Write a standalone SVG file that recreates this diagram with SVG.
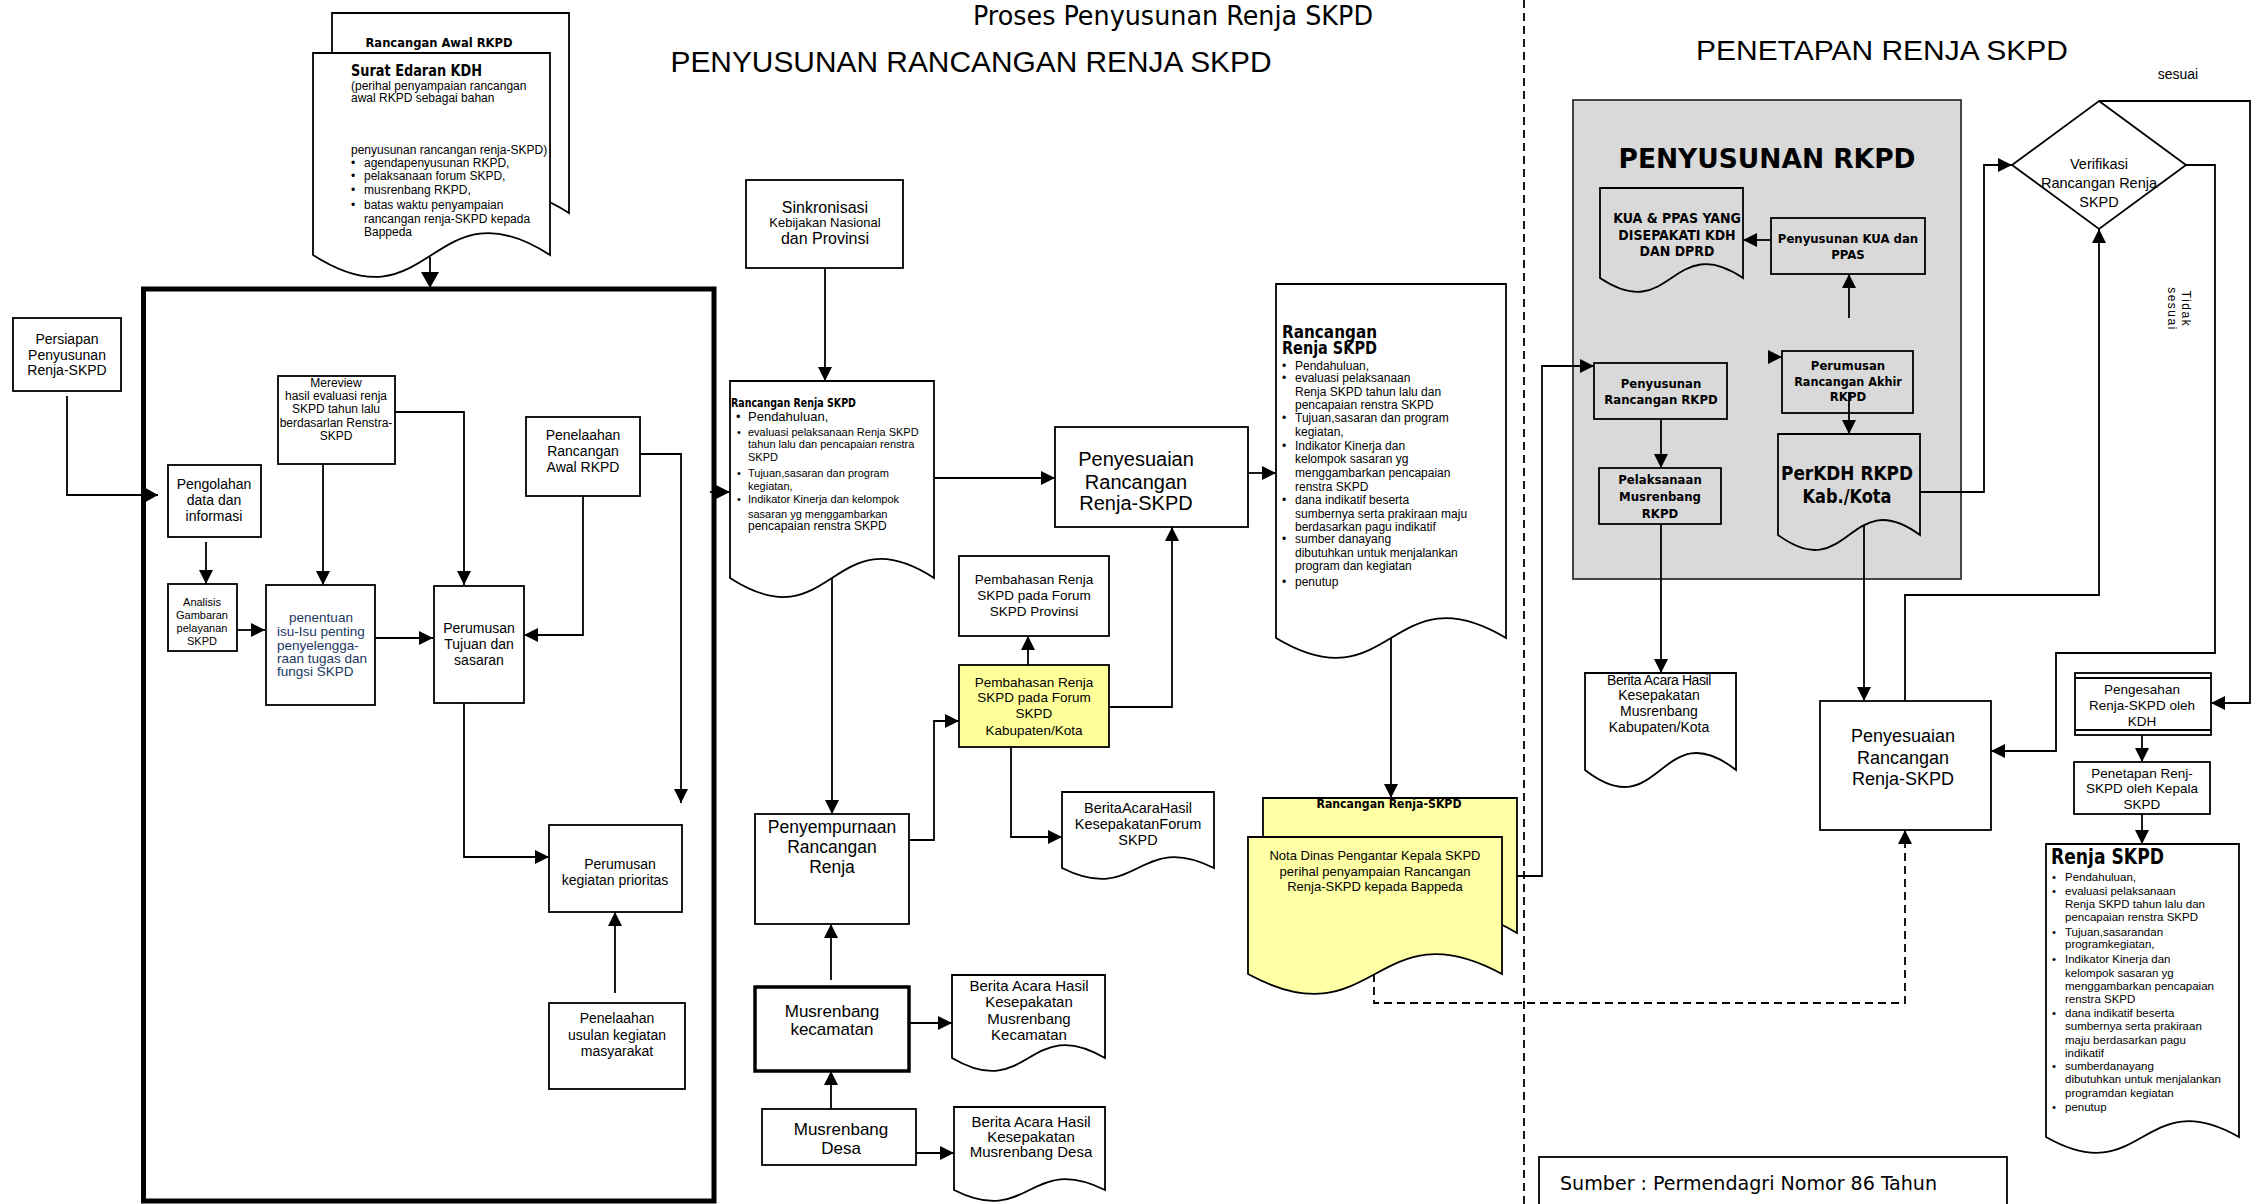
<svg xmlns="http://www.w3.org/2000/svg" width="2253" height="1204" viewBox="0 0 2253 1204">
<defs>
<style>
.bx{fill:#fff;stroke:#000;stroke-width:1.8}
.bk{fill:#fff;stroke:#000;stroke-width:3.5}
.yl{fill:#ffff99;stroke:#000;stroke-width:1.8}
.yd{fill:#ffffa6;stroke:#000;stroke-width:1.8}
.nf{fill:none;stroke:#000;stroke-width:1.8}
.ln{fill:none;stroke:#000;stroke-width:1.8}
.ar{marker-end:url(#ah)}
.arb{marker-end:url(#ahb)}
.ds{stroke-dasharray:8 5}
text{font-family:"Liberation Sans",Arial,sans-serif;fill:#000}
.c{text-anchor:middle}
.hb{font-family:"DejaVu Sans Condensed","DejaVu Sans",sans-serif;font-weight:bold}
.hr{font-family:"DejaVu Sans Condensed","DejaVu Sans",sans-serif}
.f11{font-size:11px}.f115{font-size:11.5px}.f12{font-size:12px}.f125{font-size:12.5px}.f13{font-size:13px}.f135{font-size:13.5px}.f14{font-size:14px}.f145{font-size:14.5px}.f15{font-size:15px}.f17{font-size:17px}.f18{font-size:18px}.f20{font-size:20px}
.nv{fill:#203864}
</style>
<marker id="ah" viewBox="0 0 14 14" refX="14" refY="7" markerWidth="14" markerHeight="14" markerUnits="userSpaceOnUse" orient="auto"><path d="M0,0 L14,7 L0,14 z" fill="#000"/></marker>
<marker id="ahb" viewBox="0 0 16 18" refX="16" refY="9" markerWidth="16" markerHeight="18" markerUnits="userSpaceOnUse" orient="auto"><path d="M0,0 L16,9 L0,18 z" fill="#000"/></marker>
</defs>
<rect width="2253" height="1204" fill="#fff"/>

<g id="titles">
<text class="hr c" x="1173" y="25" font-size="26" textLength="400" lengthAdjust="spacingAndGlyphs">Proses Penyusunan Renja SKPD</text>
<text class="c" x="971" y="72" font-size="29" textLength="601" lengthAdjust="spacingAndGlyphs">PENYUSUNAN RANCANGAN RENJA SKPD</text>
<text class="c" x="1882" y="60" font-size="28" textLength="372" lengthAdjust="spacingAndGlyphs">PENETAPAN RENJA SKPD</text>
</g>

<g id="divider">
<line x1="1524" y1="0" x2="1524" y2="1204" class="nf ds" stroke-width="1.5"/>
</g>

<g id="n-big-frame"><rect x="143.5" y="289" width="570.5" height="912" fill="none" stroke="#000" stroke-width="5"/></g>

<g id="n-rancangan-awal">
<path class="bx" d="M332,13 H569 V213 C450.5,137 450.5,289 332,213 Z"/>
<text class="hb c" x="439" y="47" font-size="12.5" textLength="147" lengthAdjust="spacingAndGlyphs">Rancangan Awal RKPD</text>
</g>
<g id="n-surat-edaran">
<path class="bx" d="M313,53 H550 V255 C431.5,179 431.5,331 313,255 Z"/>
<text class="hb" x="351" y="76" font-size="15" textLength="131" lengthAdjust="spacingAndGlyphs">Surat Edaran KDH</text>
<text class="f12" x="351" y="90">(perihal penyampaian rancangan</text>
<text class="f12" x="351" y="102">awal RKPD sebagai bahan</text>
<text class="f12" x="351" y="154">penyusunan rancangan renja-SKPD)</text>
<text class="f12" x="351" y="167">•</text><text class="f12" x="364" y="167">agendapenyusunan RKPD,</text>
<text class="f12" x="351" y="180">•</text><text class="f12" x="364" y="180">pelaksanaan forum SKPD,</text>
<text class="f12" x="351" y="194">•</text><text class="f12" x="364" y="194">musrenbang RKPD,</text>
<text class="f12" x="351" y="209">•</text><text class="f12" x="364" y="209">batas waktu penyampaian</text>
<text class="f12" x="364" y="223">rancangan renja-SKPD kepada</text>
<text class="f12" x="364" y="236">Bappeda</text>
</g>

<g id="n-persiapan">
<rect class="bx" x="13" y="318" width="108" height="73"/>
<text class="f14 c" x="67" y="344">Persiapan</text>
<text class="f14 c" x="67" y="360">Penyusunan</text>
<text class="f14 c" x="67" y="375">Renja-SKPD</text>
</g>

<g id="n-mereview">
<rect class="bx" x="278" y="376" width="117" height="88"/>
<text class="f12 c" x="336" y="387">Mereview</text>
<text class="f12 c" x="336" y="400">hasil evaluasi renja</text>
<text class="f12 c" x="336" y="413">SKPD tahun lalu</text>
<text class="f12 c" x="336" y="427">berdasarlan Renstra-</text>
<text class="f12 c" x="336" y="440">SKPD</text>
</g>

<g id="n-pengolahan">
<rect class="bx" x="168" y="465" width="93" height="72"/>
<text class="f14 c" x="214" y="489">Pengolahan</text>
<text class="f14 c" x="214" y="505">data dan</text>
<text class="f14 c" x="214" y="521">informasi</text>
</g>

<g id="n-analisis">
<rect class="bx" x="168" y="584" width="69" height="67"/>
<text class="f11 c" x="202" y="606">Analisis</text>
<text class="f11 c" x="202" y="619">Gambaran</text>
<text class="f11 c" x="202" y="632">pelayanan</text>
<text class="f11 c" x="202" y="645">SKPD</text>
</g>

<g id="n-penentuan">
<rect class="bx" x="266" y="585" width="109" height="120"/>
<text class="f135 c nv" x="321" y="622">penentuan</text>
<text class="f135 nv" x="277" y="636">isu-Isu penting</text>
<text class="f135 nv" x="277" y="650">penyelengga-</text>
<text class="f135 nv" x="277" y="663">raan tugas dan</text>
<text class="f135 nv" x="277" y="676">fungsi SKPD</text>
</g>

<g id="n-perumusan-tujuan">
<rect class="bx" x="434" y="586" width="90" height="117"/>
<text class="f14 c" x="479" y="633">Perumusan</text>
<text class="f14 c" x="479" y="649">Tujuan dan</text>
<text class="f14 c" x="479" y="665">sasaran</text>
</g>

<g id="n-penelaahan-awal">
<rect class="bx" x="526" y="417" width="114" height="79" stroke-width="2.6"/>
<text class="f14 c" x="583" y="440">Penelaahan</text>
<text class="f14 c" x="583" y="456">Rancangan</text>
<text class="f14 c" x="583" y="472">Awal RKPD</text>
</g>

<g id="n-perumusan-kegiatan">
<rect class="bx" x="549" y="825" width="133" height="87"/>
<text class="f14 c" x="620" y="869">Perumusan</text>
<text class="f14 c" x="615" y="885">kegiatan prioritas</text>
</g>

<g id="n-penelaahan-usulan">
<rect class="bx" x="549" y="1003" width="136" height="86"/>
<text class="f14 c" x="617" y="1023">Penelaahan</text>
<text class="f14 c" x="617" y="1040">usulan kegiatan</text>
<text class="f14 c" x="617" y="1056">masyarakat</text>
</g>

<g id="n-sinkronisasi">
<rect class="bx" x="746" y="180" width="157" height="88"/>
<text class="c" x="825" y="213" font-size="16">Sinkronisasi</text>
<text class="f13 c" x="825" y="227">Kebijakan Nasional</text>
<text class="c" x="825" y="244" font-size="16">dan Provinsi</text>
</g>

<g id="n-rancangan-renja-1">
<path class="bx" d="M730,381 H934 V578 C832,512 832,644 730,578 Z"/>
<text class="hb" x="731" y="407" font-size="11.5" textLength="125" lengthAdjust="spacingAndGlyphs">Rancangan Renja SKPD</text>
<text class="f13" x="736" y="421">•</text><text class="f13" x="748" y="421">Pendahuluan,</text>
<text class="f11" x="737" y="436">•</text><text class="f11" x="748" y="436">evaluasi pelaksanaan Renja SKPD</text>
<text class="f11" x="748" y="448">tahun lalu dan pencapaian renstra</text>
<text class="f11" x="748" y="461">SKPD</text>
<text class="f11" x="737" y="477">•</text><text class="f11" x="748" y="477">Tujuan,sasaran dan program</text>
<text class="f11" x="748" y="490">kegiatan,</text>
<text class="f11" x="737" y="503">•</text><text class="f11" x="748" y="503">Indikator Kinerja dan kelompok</text>
<text class="f11" x="748" y="518">sasaran yg menggambarkan</text>
<text class="f12" x="748" y="530">pencapaian renstra SKPD</text>
</g>

<g id="n-penyesuaian-1">
<rect class="bx" x="1055" y="427" width="193" height="100"/>
<text class="f20 c" x="1136" y="466">Penyesuaian</text>
<text class="f20 c" x="1136" y="489">Rancangan</text>
<text class="f20 c" x="1136" y="510">Renja-SKPD</text>
</g>

<g id="n-pembahasan-provinsi">
<rect class="bx" x="959" y="556" width="150" height="80"/>
<text class="f135 c" x="1034" y="584">Pembahasan Renja</text>
<text class="f135 c" x="1034" y="600">SKPD pada Forum</text>
<text class="f135 c" x="1034" y="616">SKPD Provinsi</text>
</g>

<g id="n-pembahasan-kab">
<rect class="yl" x="959" y="665" width="150" height="82"/>
<text class="f135 c" x="1034" y="687">Pembahasan Renja</text>
<text class="f135 c" x="1034" y="702">SKPD pada Forum</text>
<text class="f135 c" x="1034" y="718">SKPD</text>
<text class="f135 c" x="1034" y="735">Kabupaten/Kota</text>
</g>

<g id="n-berita-forum">
<path class="bx" d="M1062,792 H1214 V868 C1138,830 1138,906 1062,868 Z"/>
<text class="f145 c" x="1138" y="813">BeritaAcaraHasil</text>
<text class="f145 c" x="1138" y="829">KesepakatanForum</text>
<text class="f145 c" x="1138" y="845">SKPD</text>
</g>

<g id="n-penyempurnaan">
<rect class="bx" x="755" y="814" width="154" height="110"/>
<text class="c" x="832" y="833" font-size="17.5">Penyempurnaan</text>
<text class="c" x="832" y="853" font-size="17.5">Rancangan</text>
<text class="c" x="832" y="873" font-size="17.5">Renja</text>
</g>

<g id="n-musrenbang-kecamatan">
<rect class="bk" x="755" y="987" width="154" height="84"/>
<text class="f17 c" x="832" y="1017">Musrenbang</text>
<text class="f17 c" x="832" y="1035">kecamatan</text>
</g>

<g id="n-berita-kecamatan">
<path class="bx" d="M952,975 H1105 V1058 C1028.5,1013 1028.5,1103 952,1058 Z"/>
<text class="f15 c" x="1029" y="991">Berita Acara Hasil</text>
<text class="f15 c" x="1029" y="1007">Kesepakatan</text>
<text class="f15 c" x="1029" y="1024">Musrenbang</text>
<text class="f15 c" x="1029" y="1040">Kecamatan</text>
</g>

<g id="n-musrenbang-desa">
<rect class="bx" x="762" y="1109" width="154" height="56"/>
<text class="f17 c" x="841" y="1135">Musrenbang</text>
<text class="f17 c" x="841" y="1154">Desa</text>
</g>

<g id="n-berita-desa">
<path class="bx" d="M954,1107 H1105 V1190 C1029.5,1152 1029.5,1228 954,1190 Z"/>
<text class="f15 c" x="1031" y="1127">Berita Acara Hasil</text>
<text class="f15 c" x="1031" y="1142">Kesepakatan</text>
<text class="f15 c" x="1031" y="1157">Musrenbang Desa</text>
</g>

<g id="n-rancangan-renja-2">
<path class="bx" d="M1276,284 H1506 V638 C1391,569 1391,707 1276,638 Z"/>
<text class="hb" x="1282" y="338" font-size="17" textLength="95" lengthAdjust="spacingAndGlyphs">Rancangan</text>
<text class="hb" x="1282" y="354" font-size="17" textLength="95" lengthAdjust="spacingAndGlyphs">Renja SKPD</text>
<text class="f12" x="1282" y="370">•</text><text class="f12" x="1295" y="370">Pendahuluan,</text>
<text class="f12" x="1282" y="382">•</text><text class="f12" x="1295" y="382">evaluasi pelaksanaan</text>
<text class="f12" x="1295" y="396">Renja SKPD tahun lalu dan</text>
<text class="f12" x="1295" y="409">pencapaian renstra SKPD</text>
<text class="f12" x="1282" y="422">•</text><text class="f12" x="1295" y="422">Tujuan,sasaran dan program</text>
<text class="f12" x="1295" y="436">kegiatan,</text>
<text class="f12" x="1282" y="450">•</text><text class="f12" x="1295" y="450">Indikator Kinerja dan</text>
<text class="f12" x="1295" y="463">kelompok sasaran yg</text>
<text class="f12" x="1295" y="477">menggambarkan pencapaian</text>
<text class="f12" x="1295" y="491">renstra SKPD</text>
<text class="f12" x="1282" y="504">•</text><text class="f12" x="1295" y="504">dana indikatif beserta</text>
<text class="f12" x="1295" y="518">sumbernya serta prakiraan maju</text>
<text class="f12" x="1295" y="531">berdasarkan pagu indikatif</text>
<text class="f12" x="1282" y="543">•</text><text class="f12" x="1295" y="543">sumber danayang</text>
<text class="f12" x="1295" y="557">dibutuhkan untuk menjalankan</text>
<text class="f12" x="1295" y="570">program dan kegiatan</text>
<text class="f12" x="1282" y="586">•</text><text class="f12" x="1295" y="586">penutup</text>
</g>

<g id="n-nota-dinas">
<path class="yd" d="M1263,798 H1517 V933 C1390,857 1390,1009 1263,933 Z"/>
<text class="hb c" x="1389" y="808" font-size="11.5" textLength="145" lengthAdjust="spacingAndGlyphs">Rancangan  Renja-SKPD</text>
<path class="yd" d="M1248,837 H1502 V974 C1375,905 1375,1043 1248,974 Z"/>
<text class="f13 c" x="1375" y="860">Nota Dinas Pengantar Kepala SKPD</text>
<text class="f13 c" x="1375" y="876">perihal penyampaian Rancangan</text>
<text class="f13 c" x="1375" y="891">Renja-SKPD kepada Bappeda</text>
</g>

<g id="n-penyusunan-rkpd">
<rect x="1573" y="100" width="388" height="479" fill="#d9d9d9" stroke="#333" stroke-width="1.8"/>
<text class="hb c" x="1767" y="168" font-size="26" textLength="297" lengthAdjust="spacingAndGlyphs">PENYUSUNAN RKPD</text>
</g>
<g id="n-kua-ppas-doc">
<path class="nf" d="M1600,188 H1743 V278 C1671.5,230 1671.5,326 1600,278 Z"/>
<text class="hb f14 c" x="1677" y="223">KUA &amp; PPAS YANG</text>
<text class="hb f14 c" x="1677" y="240">DISEPAKATI KDH</text>
<text class="hb f14 c" x="1677" y="256">DAN DPRD</text>
</g>
<g id="n-penyusunan-kua">
<rect class="nf" x="1771" y="218" width="154" height="56"/>
<text class="hb f13 c" x="1848" y="243">Penyusunan KUA dan</text>
<text class="hb f13 c" x="1848" y="259">PPAS</text>
</g>
<g id="n-perumusan-akhir">
<rect class="nf" x="1782" y="351" width="131" height="62"/>
<text class="hb f13 c" x="1848" y="370">Perumusan</text>
<text class="hb f125 c" x="1848" y="386">Rancangan Akhir</text>
<text class="hb f13 c" x="1848" y="401">RKPD</text>
</g>
<g id="n-penyusunan-rancangan-rkpd">
<rect class="nf" x="1594" y="363" width="133" height="56"/>
<text class="hb f13 c" x="1661" y="388">Penyusunan</text>
<text class="hb f13 c" x="1661" y="404">Rancangan RKPD</text>
</g>
<g id="n-pelaksanaan-musrenbang">
<rect class="nf" x="1599" y="468" width="122" height="56"/>
<text class="hb f13 c" x="1660" y="484">Pelaksanaan</text>
<text class="hb f13 c" x="1660" y="501">Musrenbang</text>
<text class="hb f13 c" x="1660" y="518">RKPD</text>
</g>
<g id="n-perkdh">
<path class="nf" d="M1778,434 H1920 V535 C1849,483 1849,587 1778,535 Z"/>
<text class="hb c" x="1847" y="480" font-size="19" textLength="132" lengthAdjust="spacingAndGlyphs">PerKDH RKPD</text>
<text class="hb c" x="1847" y="503" font-size="19" textLength="89" lengthAdjust="spacingAndGlyphs">Kab./Kota</text>
</g>

<g id="n-berita-kab">
<path class="bx" d="M1585,673 H1736 V770 C1660.5,711 1660.5,829 1585,770 Z"/>
<text class="f14 c" x="1659" y="685" letter-spacing="-0.4">Berita Acara Hasil</text>
<text class="f14 c" x="1659" y="700">Kesepakatan</text>
<text class="f14 c" x="1659" y="716">Musrenbang</text>
<text class="f14 c" x="1659" y="732">Kabupaten/Kota</text>
</g>

<g id="n-penyesuaian-2">
<rect class="bx" x="1820" y="701" width="171" height="129"/>
<text class="f18 c" x="1903" y="742">Penyesuaian</text>
<text class="f18 c" x="1903" y="764">Rancangan</text>
<text class="f18 c" x="1903" y="785">Renja-SKPD</text>
</g>

<g id="n-verifikasi">
<polygon class="bx" points="2099,101 2186,165 2099,229 2012,165"/>
<text class="f145 c" x="2099" y="169">Verifikasi</text>
<text class="f145 c" x="2099" y="188">Rancangan Renja</text>
<text class="f145 c" x="2099" y="207">SKPD</text>
</g>

<g id="n-pengesahan">
<rect class="bx" x="2075" y="673" width="136" height="62"/>
<line class="nf" x1="2075" y1="678" x2="2211" y2="678"/>
<line class="nf" x1="2075" y1="730" x2="2211" y2="730"/>
<text class="f135 c" x="2142" y="694">Pengesahan</text>
<text class="f135 c" x="2142" y="710">Renja-SKPD oleh</text>
<text class="f135 c" x="2142" y="726">KDH</text>
</g>

<g id="n-penetapan">
<rect class="bx" x="2074" y="762" width="136" height="52"/>
<text class="f135 c" x="2142" y="778">Penetapan Renj-</text>
<text class="f135 c" x="2142" y="793">SKPD oleh Kepala</text>
<text class="f135 c" x="2142" y="809">SKPD</text>
</g>

<g id="n-renja-skpd">
<path class="bx" d="M2046,844 H2239 V1137 C2142.5,1082 2142.5,1192 2046,1137 Z"/>
<text class="hb" x="2051" y="864" font-size="21" textLength="113" lengthAdjust="spacingAndGlyphs">Renja SKPD</text>
<text class="f115" x="2052" y="881">•</text><text class="f115" x="2065" y="881">Pendahuluan,</text>
<text class="f115" x="2052" y="895">•</text><text class="f115" x="2065" y="895">evaluasi pelaksanaan</text>
<text class="f115" x="2065" y="908">Renja SKPD tahun lalu dan</text>
<text class="f115" x="2065" y="921">pencapaian renstra SKPD</text>
<text class="f115" x="2052" y="936">•</text><text class="f115" x="2065" y="936">Tujuan,sasarandan</text>
<text class="f115" x="2065" y="948">programkegiatan,</text>
<text class="f115" x="2052" y="963">•</text><text class="f115" x="2065" y="963">Indikator Kinerja dan</text>
<text class="f115" x="2065" y="977">kelompok sasaran yg</text>
<text class="f115" x="2065" y="990">menggambarkan pencapaian</text>
<text class="f115" x="2065" y="1003">renstra SKPD</text>
<text class="f115" x="2052" y="1017">•</text><text class="f115" x="2065" y="1017">dana indikatif beserta</text>
<text class="f115" x="2065" y="1030">sumbernya serta prakiraan</text>
<text class="f115" x="2065" y="1044">maju berdasarkan pagu</text>
<text class="f115" x="2065" y="1057">indikatif</text>
<text class="f115" x="2052" y="1070">•</text><text class="f115" x="2065" y="1070">sumberdanayang</text>
<text class="f115" x="2065" y="1083">dibutuhkan untuk menjalankan</text>
<text class="f115" x="2065" y="1097">programdan kegiatan</text>
<text class="f115" x="2052" y="1111">•</text><text class="f115" x="2065" y="1111">penutup</text>
</g>

<g id="n-sumber">
<rect class="bx" x="1539" y="1157" width="468" height="60"/>
<text class="hr" x="1560" y="1190" font-size="20" textLength="377" lengthAdjust="spacingAndGlyphs">Sumber : Permendagri Nomor 86 Tahun</text>
</g>

<g id="labels">
<text class="f14 c" x="2178" y="79">sesuai</text>
<g transform="translate(2180,309) rotate(90)">
<text class="f12 c" x="0" y="-2" letter-spacing="1.5">Tidak</text>
<text class="f12 c" x="0" y="12" letter-spacing="1.5">sesuai</text>
</g>
</g>

<g id="connectors">
<path class="ln arb" d="M430,257 V288"/>
<path class="ln arb" d="M67,396 V495 H158"/>
<path class="ln ar" d="M710,492 H730"/>
<path class="ln ar" d="M395,412 H464 V585"/>
<path class="ln ar" d="M206,542 V584"/>
<path class="ln ar" d="M237,630 H265"/>
<path class="ln ar" d="M323,464 V585"/>
<path class="ln ar" d="M375,638 H433"/>
<path class="ln ar" d="M583,496 V635 H524"/>
<path class="ln ar" d="M640,454 H681 V803"/>
<path class="ln ar" d="M464,703 V857 H549"/>
<path class="ln ar" d="M615,993 V912"/>
<path class="ln ar" d="M825,268 V381"/>
<path class="ln ar" d="M934,478 H1055"/>
<path class="ln ar" d="M832,578 V814"/>
<path class="ln ar" d="M909,840 H934 V721 H959"/>
<path class="ln ar" d="M1028,665 V636"/>
<path class="ln ar" d="M1109,707 H1172 V527"/>
<path class="ln ar" d="M1011,747 V837 H1062"/>
<path class="ln ar" d="M831,980 V924"/>
<path class="ln ar" d="M909,1023 H952"/>
<path class="ln ar" d="M831,1109 V1071"/>
<path class="ln ar" d="M916,1153 H954"/>
<path class="ln ar" d="M1248,473 H1276"/>
<path class="ln ar" d="M1391,638 V798"/>
<path class="ln ar" d="M1517,876 H1542 V366 H1594"/>
<path class="ln ar ds" d="M1374,974 V1003 H1905 V830"/>
<path class="ln ar" d="M1920,492 H1984 V165 H2012"/>
<path class="ln ar" d="M2099,101 H2250 V703 H2211"/>
<path class="ln ar" d="M2186,165 H2215 V653 H2056 V751 H1991"/>
<path class="ln ar" d="M1905,701 V595 H2099 V229"/>
<path class="ln ar" d="M1864,526 V701"/>
<path class="ln ar" d="M1661,524 V673"/>
<path class="ln ar" d="M1661,419 V468"/>
<path class="ln ar" d="M1849,392 V434"/>
<path class="ln ar" d="M1849,318 V274"/>
<path class="ln ar" d="M1771,240 H1743"/>
<path class="ln ar" d="M1772,357 H1782"/>
<path class="ln ar" d="M2142,735 V762"/>
<path class="ln ar" d="M2142,814 V844"/>
</g>
</svg>
